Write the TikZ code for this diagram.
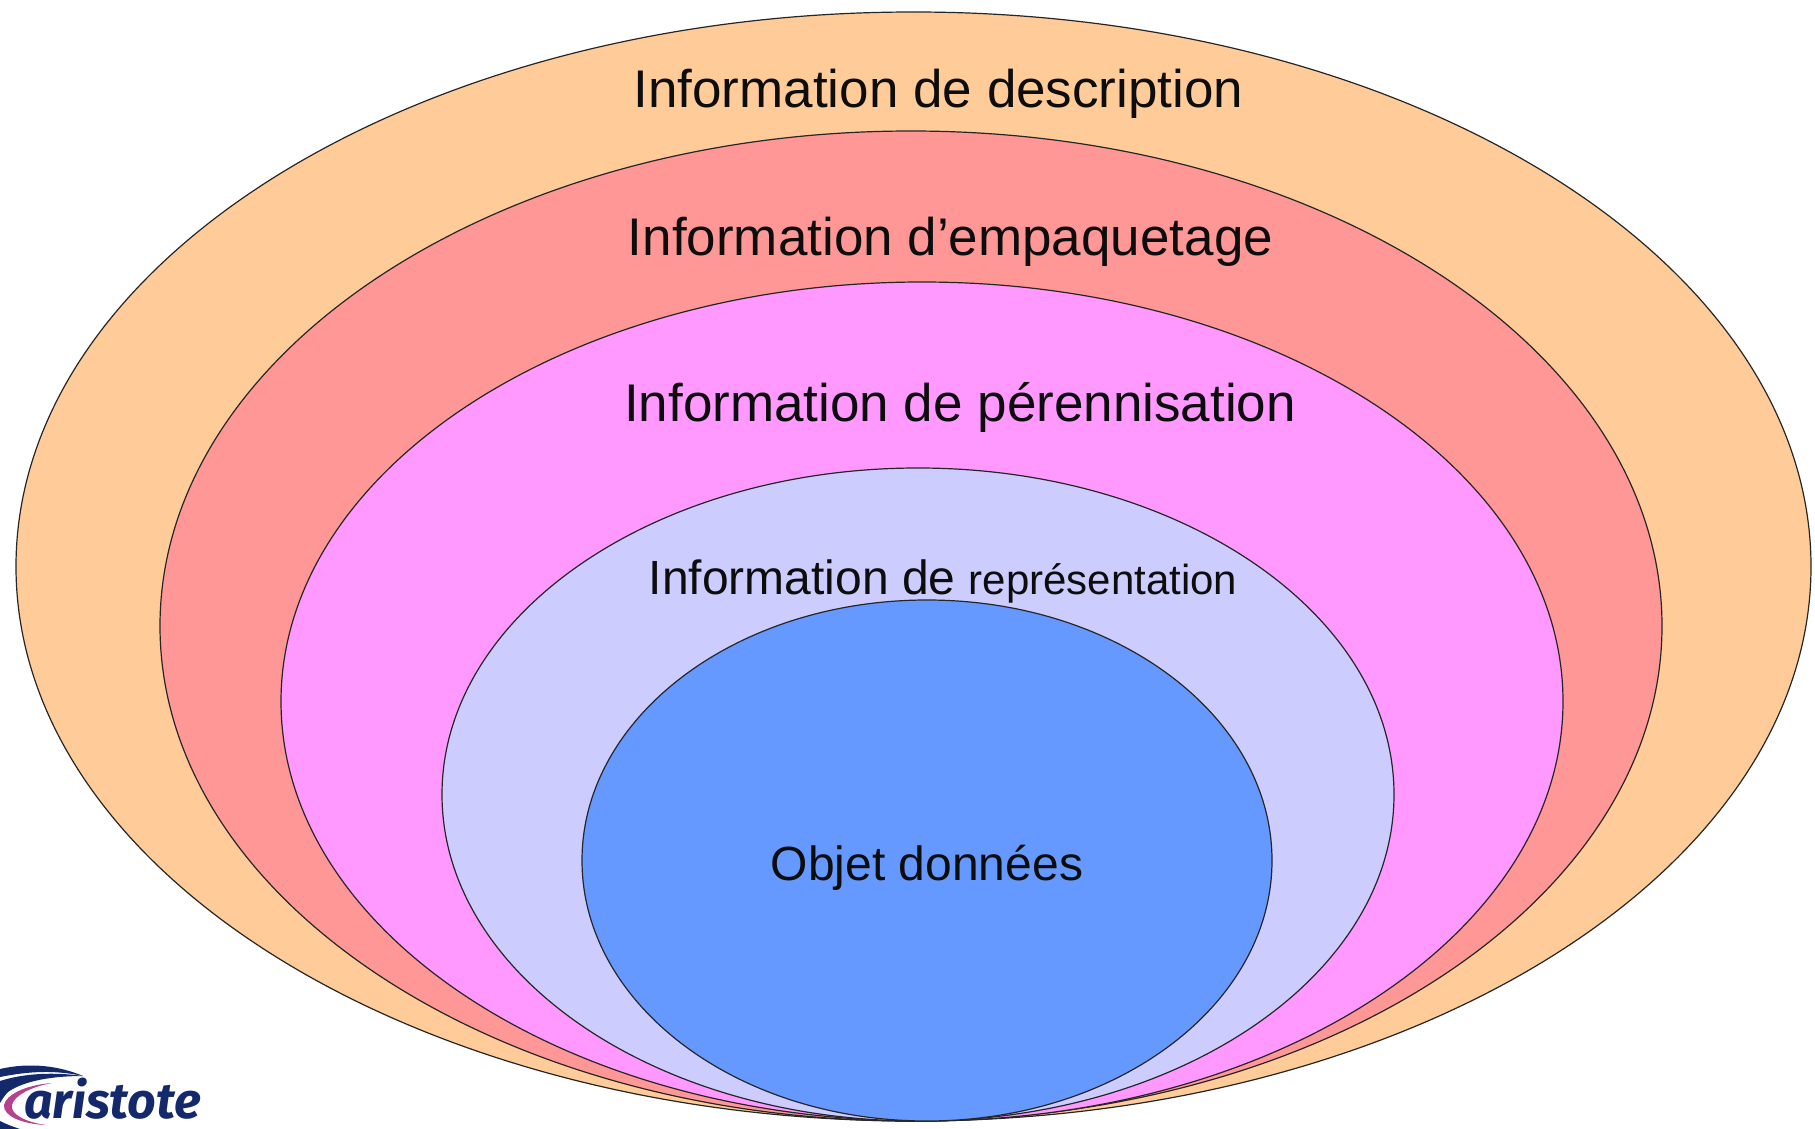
\documentclass[tikz,border=0pt]{standalone}
\usepackage{fontspec}
\setmainfont{Liberation Sans}
\newfontfamily\logofont{Fira Sans}
\definecolor{orangeL}{HTML}{FFCC99}
\definecolor{redL}{HTML}{FF9797}
\definecolor{pinkL}{HTML}{FF99FF}
\definecolor{lilacL}{HTML}{CCCCFF}
\definecolor{blueL}{HTML}{6699FF}
\definecolor{navyL}{HTML}{14296B}
\definecolor{magL}{HTML}{B8418F}
\tikzset{
  layer/.style={draw=black!85,line width=1.2pt},
  lab/.style={inner sep=0pt,text=black!95,font=\fontsize{53}{60}\selectfont,anchor=base}
}
\begin{document}
\begin{tikzpicture}[x=1pt,y=-1pt]
\useasboundingbox (0,0) rectangle (1815,1129);
\fill[white] (0,0) rectangle (1815,1129);
\draw[layer,fill=orangeL] (913.5,566.5) ellipse [x radius=897.5,y radius=554.5];
\draw[layer,fill=redL] (911,626) ellipse [x radius=751,y radius=495];
\draw[layer,fill=pinkL] (922,701.5) ellipse [x radius=641,y radius=419.5];
\draw[layer,fill=lilacL] (918,794.5) ellipse [x radius=476,y radius=326.5];
\draw[layer,fill=blueL] (927,860.5) ellipse [x radius=345,y radius=260.5];
\node[lab] (descr) at (938.5,108) {Information de description};
\node[lab] (emp) at (950.5,255) {Information d’empaquetage};
\node[lab] (per) at (960,421) {Information de pérennisation};
\node[lab] (rep) at (943,594) {\fontsize{48}{54}\selectfont Information de \fontsize{42}{48}\selectfont représentation};
\node[lab] (obj) at (927,880) {\fontsize{48}{54}\selectfont Objet données};
% logo
\begin{scope}
\clip (0,1060) rectangle (260,1129);
\fill[navyL] (0,1069) .. controls (30,1062) and (60,1066) .. (83,1076)
  .. controls (55,1070) and (30,1071) .. (0,1077) -- cycle;
\fill[navyL] (0,1081) .. controls (25,1073) and (55,1072) .. (83,1076)
  .. controls (55,1076) and (25,1080) .. (8,1092) .. controls (4,1096) and (2,1100) .. (0,1103) -- cycle;
\fill[magL] (52,1083) .. controls (25,1085) and (6,1095) .. (4,1105)
  .. controls (3,1116) and (22,1124) .. (46,1125)
  .. controls (25,1122) and (10,1114) .. (12,1105)
  .. controls (14,1096) and (30,1087) .. (52,1083) -- cycle;
\fill[navyL] (0,1121) .. controls (8,1125) and (14,1127) .. (20,1129) -- (0,1129) -- cycle;
\node[inner sep=0pt,anchor=base west,text=navyL,font=\logofont\bfseries\itshape\fontsize{50}{56}\selectfont] (logo) at (24,1118) {aristote};
\end{scope}
\end{tikzpicture}
\end{document}
